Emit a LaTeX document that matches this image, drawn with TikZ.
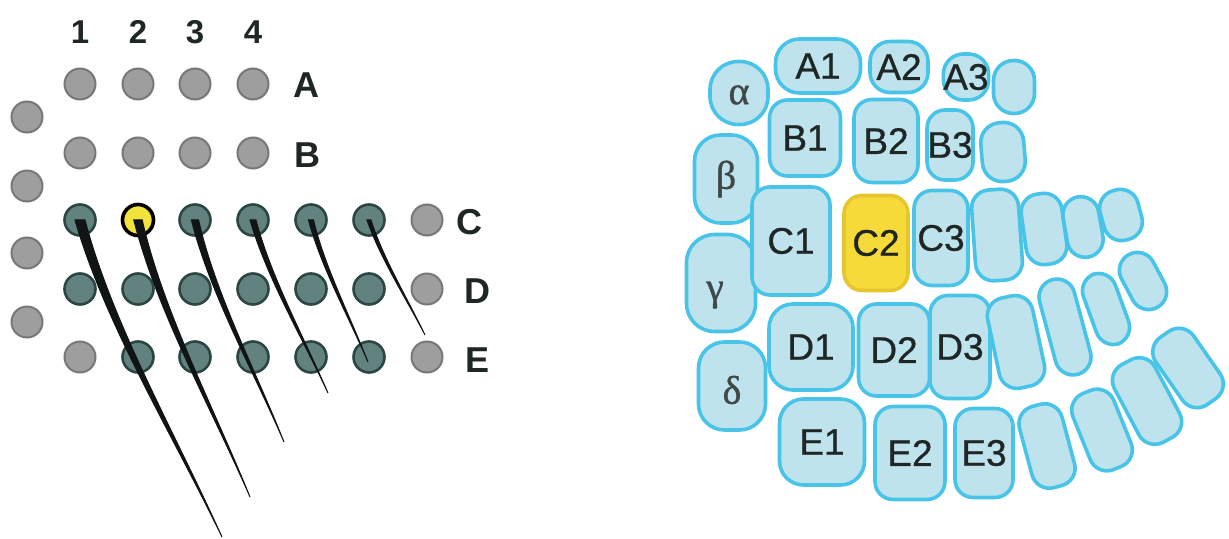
\documentclass[tikz,border=0pt]{standalone}
\usepackage{fontspec}
\usetikzlibrary{calc}
\newfontfamily\labfont{Liberation Sans}
\newfontfamily\cellfont{Liberation Sans}[FakeBold=0.7]
\newfontfamily\grkfont{Liberation Serif}[FakeBold=0.9]

\definecolor{dotgrey}{HTML}{9E9E9E}
\definecolor{dotgreyline}{HTML}{777777}
\definecolor{dotteal}{HTML}{62827F}
\definecolor{dottealline}{HTML}{2C4644}
\definecolor{dotyellow}{HTML}{F2E23C}
\definecolor{cellfill}{HTML}{BFE3EC}
\definecolor{cellline}{HTML}{48C4E8}
\definecolor{hotfill}{HTML}{F6DA3A}
\definecolor{hotline}{HTML}{E6C62C}
\definecolor{inkdark}{HTML}{1E2626}
\definecolor{wirecol}{HTML}{111414}

\tikzset{
  dot/.style={circle, minimum size=15.5pt, inner sep=0pt, line width=1pt},
  greydot/.style={dot, fill=dotgrey, draw=dotgreyline},
  tealdot/.style={dot, fill=dotteal, draw=dottealline, line width=1.3pt},
  yellowdot/.style={dot, fill=dotyellow, draw=black, line width=1.8pt},
  rowlab/.style={inner sep=0pt, text=inkdark, font=\labfont\bfseries\fontsize{18}{18}\selectfont},
  collab/.style={inner sep=0pt, text=inkdark, font=\labfont\bfseries\fontsize{16.5}{16.5}\selectfont},
  cell/.style={draw=cellline, fill=cellfill, line width=1.8pt, rounded corners=9pt,
    inner sep=0pt, text=inkdark, font=\cellfont\fontsize{18.5}{18.5}\selectfont},
  hotcell/.style={cell, fill=hotfill, draw=hotline},
  grk/.style={inner sep=0pt, font=\grkfont\fontsize{20}{20}\selectfont, text=inkdark!85},
  wh/.style 2 args={minimum width=#1pt, minimum height=#2pt},
}

% tapered electrode: #1 root node, #2 tip, #3 half width at root,
% #4 and #5 sideways bow of the two control points
\newcommand{\drawwire}[5]{%
  \filldraw[wirecol, line width=0.5pt]
    ($(#1)+(-#3,0)$)
      .. controls ($(#1)!0.33!(#2)+(-#4-#3*0.75,0)$) and ($(#1)!0.67!(#2)+(-#5-#3*0.35,0)$) .. (#2)
      .. controls ($(#1)!0.67!(#2)+(-#5+#3*0.35,0)$) and ($(#1)!0.33!(#2)+(-#4+#3*0.75,0)$) .. ($(#1)+(#3,0)$)
      -- cycle;}

\begin{document}
\begin{tikzpicture}[x=0.5pt, y=-0.5pt]
\useasboundingbox (0,0) rectangle (1229,539);

% ---------- electrode grid ----------
\foreach \c/\x in {1/80, 2/138, 3/195, 4/253}
  \node[collab] (col\c) at (\x,32) {\c};

\foreach \c/\x in {1/80, 2/138, 3/195, 4/253} {
  \node[greydot] (dA\c) at (\x,84) {};
  \node[greydot] (dB\c) at (\x,153) {};
}
\foreach \c/\y in {1/117, 2/186, 3/253, 4/322}
  \node[greydot] (side\c) at (27,\y) {};

\foreach \c/\x in {1/80, 3/195, 4/253, 5/311, 6/369}
  \node[tealdot] (dC\c) at (\x,220) {};
\node[yellowdot] (dC2) at (138,220) {};
\node[greydot] (dC7) at (427,220) {};

\foreach \c/\x in {1/80, 2/138, 3/195, 4/253, 5/311, 6/369}
  \node[tealdot] (dD\c) at (\x,289) {};
\node[greydot] (dD7) at (427,289) {};

\node[greydot] (dE1) at (80,357) {};
\foreach \c/\x in {2/138, 3/195, 4/253, 5/311, 6/369}
  \node[tealdot] (dE\c) at (\x,357) {};
\node[greydot] (dE7) at (427,357) {};

\node[rowlab] (rA) at (306,85) {A};
\node[rowlab] (rB) at (307,155) {B};
\node[rowlab] (rC) at (469,222) {C};
\node[rowlab] (rD) at (477,291) {D};
\node[rowlab] (rE) at (477,360) {E};

% electrode tips
\coordinate (t1) at (222,537);
\coordinate (t2) at (250,497);
\coordinate (t3) at (284,442);
\coordinate (t4) at (328,393);
\coordinate (t5) at (368,362);
\coordinate (t6) at (425,335);

\drawwire{dC1}{t1}{5}{18}{2}
\drawwire{dC2}{t2}{4.2}{15}{1.5}
\drawwire{dC3}{t3}{3.6}{12}{1}
\drawwire{dC4}{t4}{3}{9}{1}
\drawwire{dC5}{t5}{2.5}{7}{0.5}
\drawwire{dC6}{t6}{2}{6}{0.5}

% ---------- barrel field ----------
% arcs (greek)
\node[cell, wh={29}{31.5}, rounded corners=14pt] (alpha) at (739,93) {};
\node[grk] at ([yshift=-1pt]alpha.center) {α};
\node[cell, wh={31.5}{44}, rounded corners=13pt] (beta) at (726,179) {};
\node[grk] at (beta) {β};
\node[cell, wh={34.5}{48.5}, rounded corners=14pt] (gamma) at (721,283) {};
\node[grk] at ([xshift=-3pt,yshift=-6pt]gamma.center) {γ};
\node[cell, wh={33.5}{44}, rounded corners=13pt] (delta) at (732,386) {};
\node[grk] at ([yshift=-2pt]delta.center) {δ};

% row A
\node[cell, wh={42.5}{27}, rounded corners=12pt] (A1) at (818,66) {A1};
\node[cell, wh={29}{25.5}, rounded corners=10pt] (A2) at (899,67) {A2};
\node[cell, wh={22}{23}, rounded corners=10pt] (A3) at (966,77) {A3};
\node[cell, wh={20.5}{26.5}, rounded corners=10pt] (A4) at (1014,87) {};

% row B
\node[cell, wh={35.5}{38}] (B1) at (805,138) {B1};
\node[cell, wh={32}{41.5}] (B2) at (886,141) {B2};
\node[cell, wh={23}{35}] (B3) at (950,145) {B3};
\node[cell, wh={21.5}{29.5}, rounded corners=10pt, rotate=5] (B4) at (1003,152) {};

% row C
\node[cell, wh={39}{54}] (C1) at (791,241) {C1};
\node[hotcell, wh={32}{47.5}] (C2) at (876,243) {C2};
\node[cell, wh={27}{47.5}] (C3) at (941,238) {C3};
\node[cell, wh={23.5}{45.5}, rotate=4] (C4) at (997,235) {};
\node[cell, wh={20.5}{35.5}, rotate=8] (C5) at (1044,229) {};
\node[cell, wh={18}{30.5}, rotate=10] (C6) at (1083,227) {};
\node[cell, wh={19.5}{25.5}, rotate=15] (C7) at (1121,215) {};

% row D
\node[cell, wh={42}{43}, rounded corners=12pt] (D1) at (811,347) {D1};
\node[cell, wh={35.5}{46}] (D2) at (894,350) {D2};
\node[cell, wh={30}{51.5}] (D3) at (960,347) {D3};
\node[cell, wh={23}{46}, rotate=12] (D4) at (1016,342) {};
\node[cell, wh={18}{49}, rotate=15] (D5) at (1065,327) {};
\node[cell, wh={17}{37}, rotate=20] (D6) at (1106,309) {};
\node[cell, wh={18}{30}, rotate=28] (D7) at (1143,281) {};

% row E
\node[cell, wh={42.5}{43}, rounded corners=12pt] (E1) at (822,442) {E1};
\node[cell, wh={35}{46.5}] (E2) at (910,453) {E2};
\node[cell, wh={29}{44.5}] (E3) at (984,453) {E3};
\node[cell, wh={22}{42}, rotate=15] (E4) at (1047,446) {};
\node[cell, wh={22}{41}, rotate=22] (E5) at (1102,430) {};
\node[cell, wh={23}{44}, rotate=28] (E6) at (1147,401) {};
\node[cell, wh={23}{41}, rotate=35] (E7) at (1188,368) {};
\end{tikzpicture}
\end{document}
